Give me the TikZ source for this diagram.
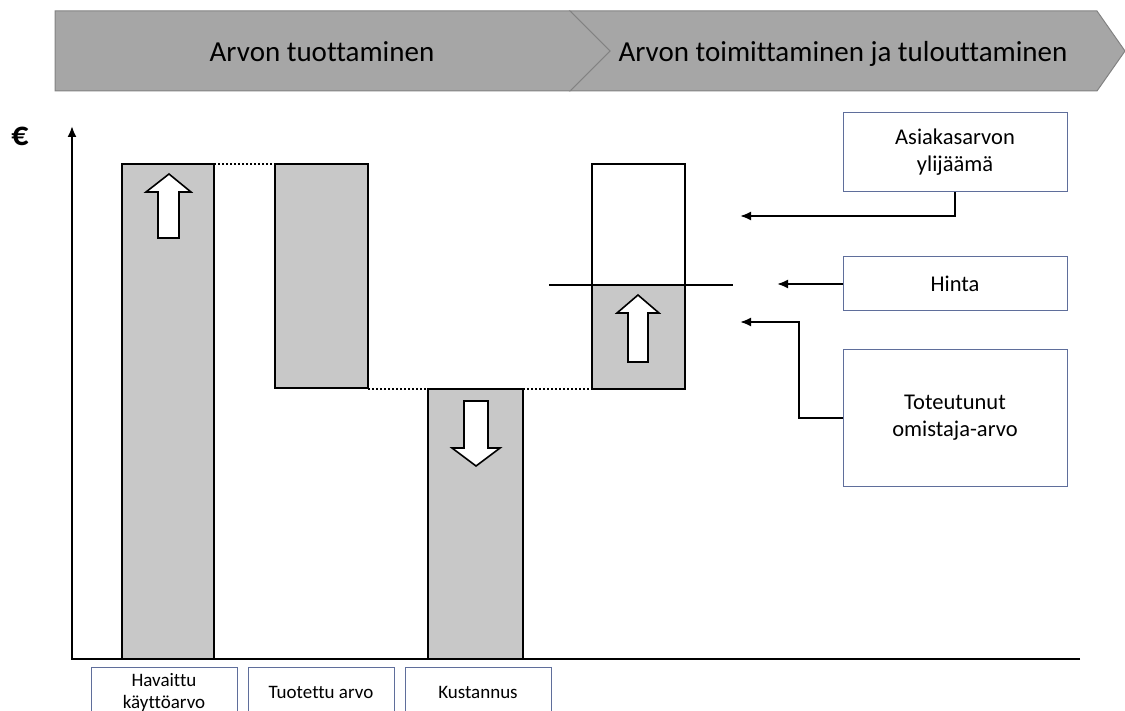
\documentclass[tikz,border=0pt]{standalone}
\usepackage{fontspec}
\setmainfont{Carlito}[Ligatures=NoCommon]
\usetikzlibrary{arrows.meta}
\definecolor{banner}{RGB}{166,166,166}
\definecolor{bannerline}{RGB}{130,130,130}
\definecolor{barfill}{RGB}{200,200,200}
\definecolor{boxline}{RGB}{95,110,155}
\tikzset{
  barbox/.style={draw=black, line width=2pt, fill=barfill},
  lblbox/.style={draw=boxline, line width=1pt, fill=white, rectangle, align=center, inner sep=2pt},
  rlabel/.style={lblbox, minimum width=224pt, font=\fontsize{22.5}{27}\selectfont},
  blabel/.style={lblbox, minimum width=146pt, minimum height=50pt, font=\fontsize{19}{22}\selectfont},
  conn/.style={line width=2pt, -{Latex[length=11pt,width=9pt]}},
  dotline/.style={line width=2pt, dotted},
  blockarrow/.style={draw=black, line width=1.6pt, fill=white, line join=miter},
  bannershape/.style={fill=banner, draw=bannerline, line width=1pt},
  bannertext/.style={font=\fontsize{29}{32}\selectfont, anchor=base},
}
\begin{document}
\begin{tikzpicture}[x=1pt,y=-1pt]
\useasboundingbox (0,0) rectangle (1125,711);
\clip (0,0) rectangle (1125,711);
% banner
\draw[bannershape] (570,11) -- (1097,11) -- (1125,51) -- (1097,91) -- (570,91) -- (610,51) -- cycle;
\draw[bannershape] (55,11) -- (570,11) -- (610,51) -- (570,91) -- (55,91) -- cycle;
\node[bannertext] (t1) at (322,62) {Arvon tuottaminen};
\node[bannertext] (t2) at (843,62) {Arvon toimittaminen ja tulouttaminen};
% euro
\node[font=\bfseries\fontsize{34}{36}\selectfont] (eur) at (20,136) {€};
% bars
\draw[barbox] (122,164) rectangle (214,659);
\draw[barbox] (275,164) rectangle (368,388);
\draw[barbox] (428,389) rectangle (523,659);
\fill[barfill] (592,285) rectangle (685,389);
\draw[line width=2pt] (592,164) rectangle (685,389);
\draw[line width=2pt] (549,285) -- (733,285);
% dotted links
\draw[dotline] (214,164) -- (275,164);
\draw[dotline] (368,389) -- (428,389);
\draw[dotline] (523,389) -- (592,389);
% axes
\draw[conn] (1080,659) -- (72,659) -- (72,126);
% block arrows
\draw[blockarrow] (158,238) -- (158,192) -- (146,192) -- (169,174) -- (191,192) -- (179,192) -- (179,238) -- cycle;
\draw[blockarrow] (628,362) -- (628,313) -- (617,313) -- (638,295) -- (659,313) -- (648,313) -- (648,362) -- cycle;
\draw[blockarrow] (464,401) -- (464,448) -- (452,448) -- (476,466) -- (500,448) -- (488,448) -- (488,401) -- cycle;
% right labels
\node[rlabel, minimum height=79pt] (ylij) at (955,152) {Asiakasarvon\\ylijäämä};
\node[rlabel, minimum height=54pt] (hinta) at (955,284) {Hinta};
\node[rlabel, minimum height=136pt] (tot) at (955,418) {Toteutunut\\omistaja-arvo};
% bottom labels
\node[blabel] (hav) at (164,692) {Havaittu\\käyttöarvo};
\node[blabel] (tuo) at (321,692) {Tuotettu arvo};
\node[blabel] (kus) at (478,692) {Kustannus};
% connectors
\coordinate (a1) at (740,216);
\coordinate (a2) at (777,284);
\coordinate (a3) at (740,322);
\coordinate (a3v) at (799,322);
\draw[conn] (ylij.south) |- (a1);
\draw[conn] (hinta.west) -- (a2);
\draw[conn] (tot.west) -- (tot.west -| a3v) |- (a3);
\end{tikzpicture}
\end{document}
